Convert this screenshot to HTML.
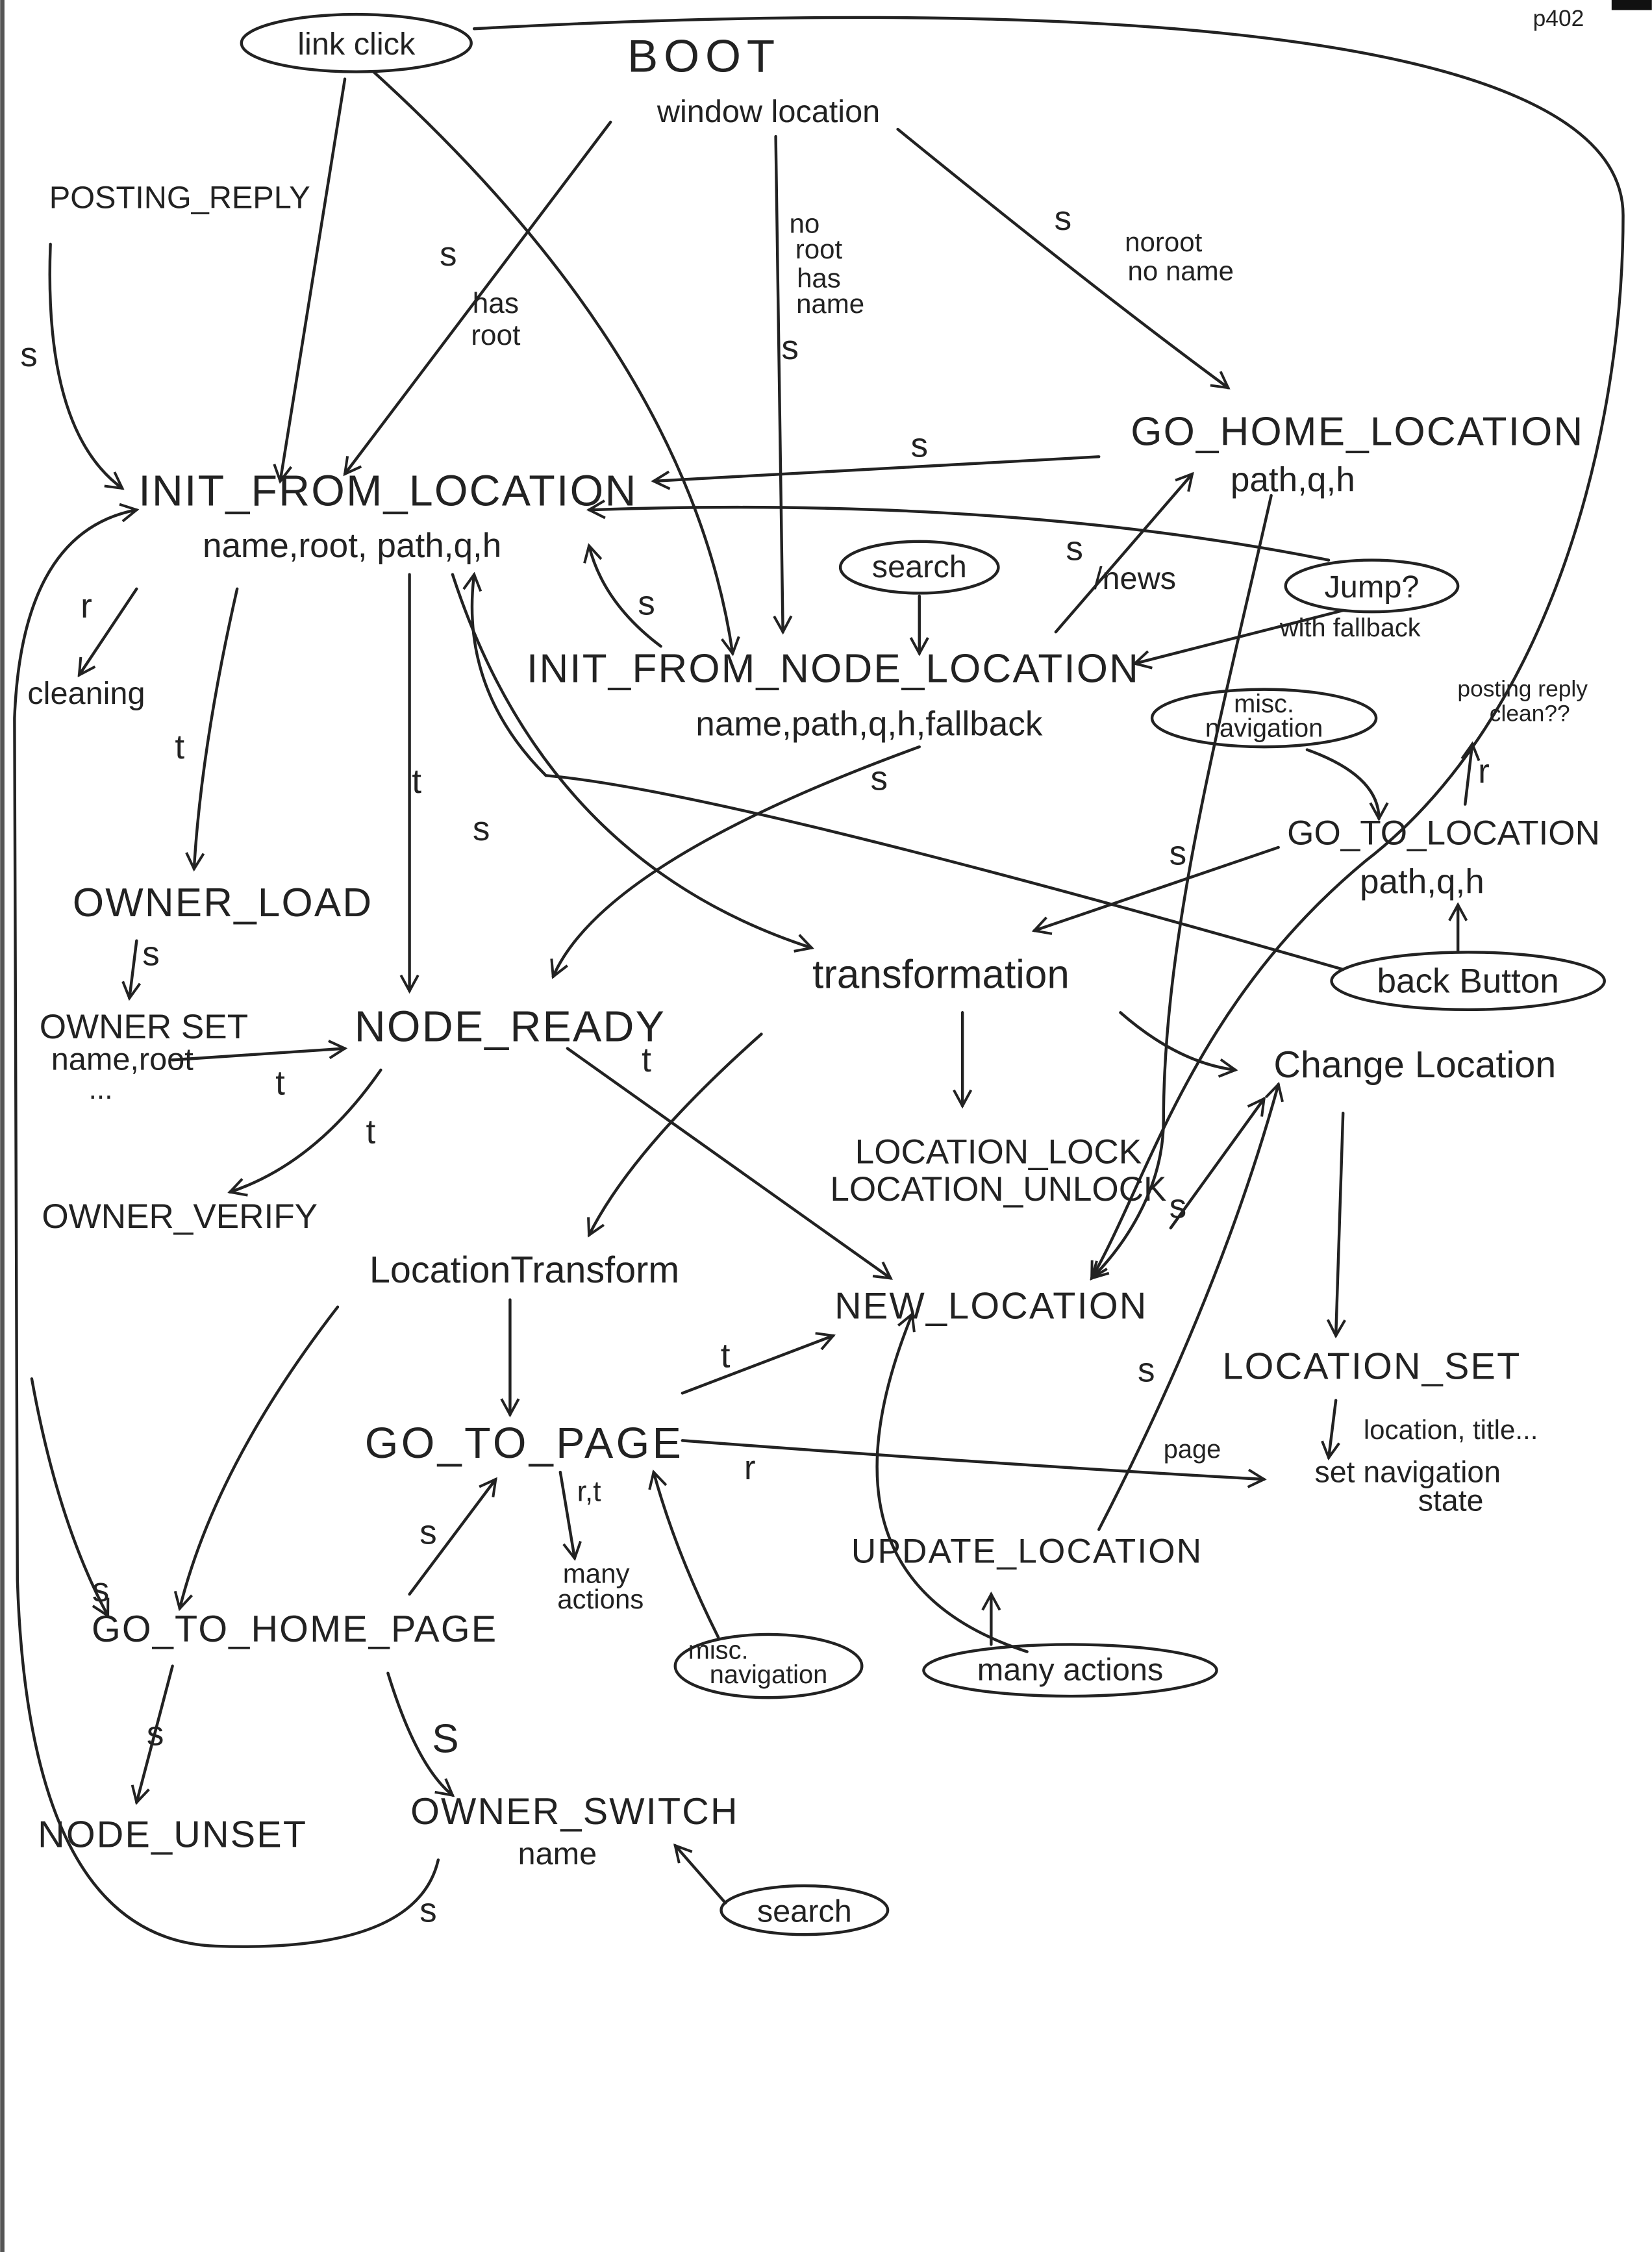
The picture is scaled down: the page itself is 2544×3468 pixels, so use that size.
<!DOCTYPE html>
<html><head><meta charset="utf-8">
<style>
html,body{margin:0;padding:0;background:#fff;}
svg{display:block;}
text{font-family:"Liberation Sans",sans-serif;fill:#222;}
</style></head>
<body>
<svg width="2544" height="3468" viewBox="0 0 1150 1568" xmlns="http://www.w3.org/2000/svg">
<defs>
<marker id="a" markerWidth="14" markerHeight="14" refX="12" refY="7" orient="auto" markerUnits="userSpaceOnUse">
<path d="M1,1 L12,7 L1,13" fill="none" stroke="#222" stroke-width="1.8"/>
</marker>
</defs>
<rect x="0" y="0" width="1150" height="1568" fill="#fff"/>
<rect x="0" y="0" width="3" height="1568" fill="#555"/>
<rect x="1122" y="0" width="28" height="7" fill="#111"/>
<g fill="none" stroke="#222" stroke-width="2" stroke-linecap="round">
<ellipse cx="248" cy="30" rx="80" ry="20"/>
<ellipse cx="640" cy="395" rx="55" ry="18"/>
<ellipse cx="955" cy="408" rx="60" ry="18"/>
<ellipse cx="880" cy="500" rx="78" ry="20"/>
<ellipse cx="1022" cy="683" rx="95" ry="20"/>
<ellipse cx="535" cy="1160" rx="65" ry="22"/>
<ellipse cx="745" cy="1163" rx="102" ry="18"/>
<ellipse cx="560" cy="1330" rx="58" ry="17"/>
<g marker-end="url(#a)">
<path d="M240,55 L195,335"/>
<path d="M260,50 Q480,250 510,455"/>
<path d="M330,20 C700,0 1130,10 1130,150 C1130,300 1080,500 950,600 C830,700 800,820 760,890"/>
<path d="M425,85 L240,330"/>
<path d="M540,95 L545,440"/>
<path d="M625,90 Q760,200 855,270"/>
<path d="M35,170 Q30,300 85,340"/>
<path d="M765,318 L455,335"/>
<path d="M925,390 Q700,345 410,355"/>
<path d="M935,425 L790,462"/>
<path d="M735,440 L830,330"/>
<path d="M640,415 L640,455"/>
<path d="M460,450 Q420,420 410,380"/>
<path d="M95,410 L55,470"/>
<path d="M165,410 Q140,520 135,605"/>
<path d="M285,400 L285,690"/>
<path d="M315,400 Q380,600 565,660"/>
<path d="M935,675 Q500,550 380,540 Q320,480 330,400"/>
<path d="M885,345 C850,500 810,650 810,780 C810,830 780,870 760,890"/>
<path d="M890,590 L720,648"/>
<path d="M910,522 Q960,540 960,570"/>
<path d="M1020,560 L1025,518"/>
<path d="M1015,662 L1015,630"/>
<path d="M640,520 Q420,600 385,680"/>
<path d="M95,655 L90,695"/>
<path d="M120,738 L240,730"/>
<path d="M265,745 Q220,810 160,830"/>
<path d="M395,730 L620,890"/>
<path d="M670,705 L670,770"/>
<path d="M530,720 Q440,800 410,860"/>
<path d="M780,705 Q820,740 860,745"/>
<path d="M935,775 L930,930"/>
<path d="M355,905 L355,985"/>
<path d="M235,910 Q150,1020 125,1120"/>
<path d="M475,970 L580,930"/>
<path d="M475,1003 Q700,1020 880,1030"/>
<path d="M930,975 L925,1015"/>
<path d="M390,1025 L400,1085"/>
<path d="M500,1140 Q470,1080 455,1025"/>
<path d="M285,1110 L345,1030"/>
<path d="M765,1065 Q850,900 890,755"/>
<path d="M715,1150 Q560,1100 635,915"/>
<path d="M690,1145 L690,1110"/>
<path d="M815,855 L880,765"/>
<path d="M120,1160 L95,1255"/>
<path d="M270,1165 Q290,1230 315,1250"/>
<path d="M505,1325 L470,1285"/>
<path d="M305,1295 Q290,1360 150,1355 Q20,1350 12,1100 L10,500 Q15,370 95,355"/>
<path d="M22,960 Q40,1060 75,1125"/>
</g>
</g>
<g text-anchor="middle" font-size="24">
<text x="248" y="38" font-size="22">link click</text>
<text x="490" y="50" font-size="32" letter-spacing="4">BOOT</text>
<text x="535" y="85" font-size="22">window location</text>
<text x="1085" y="18" font-size="16">p402</text>
<text x="125" y="145" font-size="22">POSTING_REPLY</text>
<text x="20" y="255">s</text>
<text x="312" y="185">s</text>
<text x="345" y="218" font-size="20">has</text>
<text x="345" y="240" font-size="20">root</text>
<text x="560" y="162" font-size="19">no</text>
<text x="570" y="180" font-size="19">root</text>
<text x="570" y="200" font-size="19">has</text>
<text x="578" y="218" font-size="19">name</text>
<text x="550" y="250">s</text>
<text x="740" y="160">s</text>
<text x="810" y="175" font-size="19">noroot</text>
<text x="822" y="195" font-size="19">no name</text>
<text x="945" y="310" font-size="28" letter-spacing="1">GO_HOME_LOCATION</text>
<text x="900" y="342" font-size="24">path,q,h</text>
<text x="270" y="352" font-size="30" letter-spacing="1">INIT_FROM_LOCATION</text>
<text x="245" y="388" font-size="24">name,root, path,q,h</text>
<text x="640" y="318">s</text>
<text x="640" y="402" font-size="22">search</text>
<text x="748" y="390">s</text>
<text x="790" y="410" font-size="22">/news</text>
<text x="955" y="416" font-size="22">Jump?</text>
<text x="940" y="443" font-size="18">with fallback</text>
<text x="60" y="430">r</text>
<text x="60" y="490" font-size="22">cleaning</text>
<text x="450" y="428">s</text>
<text x="580" y="475" font-size="28" letter-spacing="1">INIT_FROM_NODE_LOCATION</text>
<text x="605" y="512" font-size="24">name,path,q,h,fallback</text>
<text x="880" y="496" font-size="18">misc.</text>
<text x="880" y="513" font-size="18">navigation</text>
<text x="1060" y="485" font-size="16">posting reply</text>
<text x="1065" y="502" font-size="16">clean??</text>
<text x="125" y="528">t</text>
<text x="290" y="552">t</text>
<text x="335" y="585">s</text>
<text x="612" y="550">s</text>
<text x="1033" y="545">r</text>
<text x="1005" y="588" font-size="24">GO_TO_LOCATION</text>
<text x="990" y="622" font-size="24">path,q,h</text>
<text x="820" y="602">s</text>
<text x="155" y="638" font-size="28" letter-spacing="1">OWNER_LOAD</text>
<text x="105" y="672">s</text>
<text x="100" y="723" font-size="24">OWNER SET</text>
<text x="85" y="745" font-size="22">name,root</text>
<text x="70" y="765" font-size="20">...</text>
<text x="195" y="762">t</text>
<text x="355" y="725" font-size="30" letter-spacing="1">NODE_READY</text>
<text x="655" y="688" font-size="28">transformation</text>
<text x="1022" y="691" font-size="24">back Button</text>
<text x="985" y="750" font-size="26">Change Location</text>
<text x="450" y="746">t</text>
<text x="258" y="796">t</text>
<text x="125" y="855" font-size="24">OWNER_VERIFY</text>
<text x="695" y="810" font-size="24">LOCATION_LOCK</text>
<text x="695" y="836" font-size="24">LOCATION_UNLOCK</text>
<text x="820" y="848">s</text>
<text x="365" y="893" font-size="26">LocationTransform</text>
<text x="690" y="918" font-size="26" letter-spacing="1">NEW_LOCATION</text>
<text x="505" y="952">t</text>
<text x="798" y="962">s</text>
<text x="955" y="960" font-size="26" letter-spacing="1">LOCATION_SET</text>
<text x="365" y="1015" font-size="30" letter-spacing="2">GO_TO_PAGE</text>
<text x="410" y="1045" font-size="20">r,t</text>
<text x="522" y="1030">r</text>
<text x="830" y="1015" font-size="18">page</text>
<text x="1010" y="1002" font-size="19">location, title...</text>
<text x="980" y="1032" font-size="21">set navigation</text>
<text x="1010" y="1052" font-size="21">state</text>
<text x="298" y="1075">s</text>
<text x="415" y="1102" font-size="19">many</text>
<text x="418" y="1120" font-size="19">actions</text>
<text x="70" y="1115">s</text>
<text x="715" y="1088" font-size="24" letter-spacing="1">UPDATE_LOCATION</text>
<text x="205" y="1143" font-size="26" letter-spacing="1">GO_TO_HOME_PAGE</text>
<text x="500" y="1155" font-size="18">misc.</text>
<text x="535" y="1172" font-size="18">navigation</text>
<text x="745" y="1170" font-size="22">many actions</text>
<text x="108" y="1215">s</text>
<text x="310" y="1220" font-size="28">S</text>
<text x="120" y="1286" font-size="26" letter-spacing="1">NODE_UNSET</text>
<text x="400" y="1270" font-size="26" letter-spacing="1">OWNER_SWITCH</text>
<text x="388" y="1298" font-size="22">name</text>
<text x="298" y="1338">s</text>
<text x="560" y="1338" font-size="22">search</text>
</g>
</svg>
</body></html>
